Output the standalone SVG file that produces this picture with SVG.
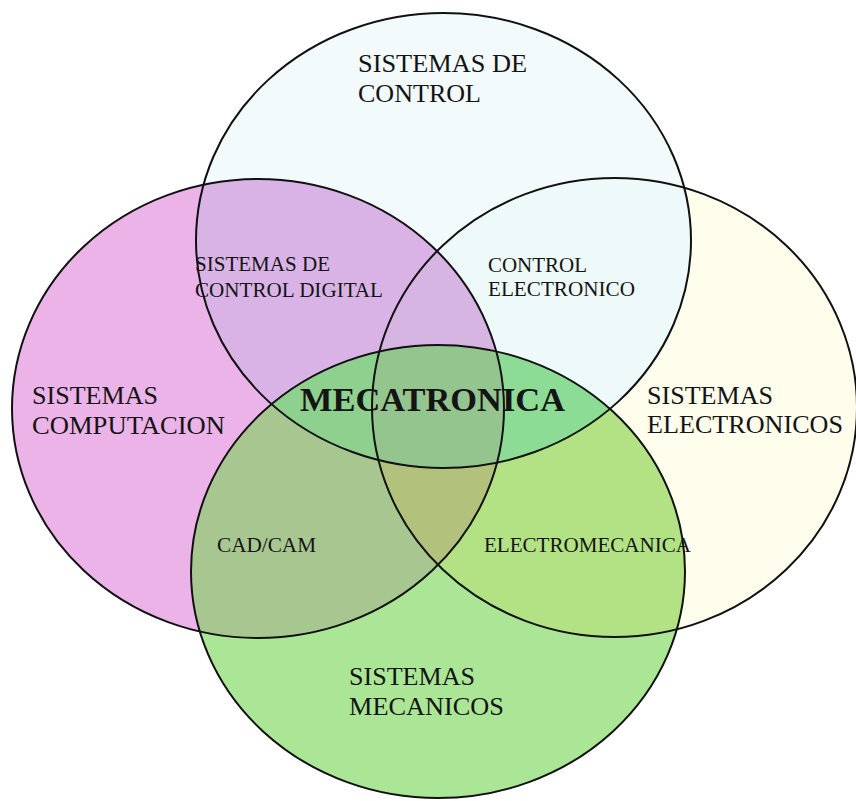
<svg xmlns="http://www.w3.org/2000/svg" width="856" height="801" viewBox="0 0 856 801">
<style>
.out{fill:none;stroke:#111;stroke-width:2}
.t{font-family:"Liberation Serif","Times New Roman",serif;fill:#141414}
.big{font-size:26px}
.mid{font-size:22px}
.sm{font-size:20px}
.b{font-size:34px;font-weight:bold}
</style>
<defs>
<clipPath id="cT"><ellipse cx="443.5" cy="240.5" rx="247.5" ry="227.5"/></clipPath>
<clipPath id="cL"><ellipse cx="258" cy="408.5" rx="246" ry="229.5"/></clipPath>
<clipPath id="cR"><ellipse cx="614.5" cy="407.5" rx="242.5" ry="229.5"/></clipPath>
<clipPath id="cB"><ellipse cx="438" cy="571.5" rx="247" ry="226.5"/></clipPath>
</defs>
<rect width="856" height="801" fill="#ffffff"/>
<g id="regions">
<ellipse cx="258" cy="408.5" rx="246" ry="229.5" fill="#ebb3e8"/>
<ellipse cx="614.5" cy="407.5" rx="242.5" ry="229.5" fill="#fffdeb"/>
<g clip-path="url(#cR)"><ellipse cx="258" cy="408.5" rx="246" ry="229.5" fill="#d8b6dc"/></g>
<ellipse cx="443.5" cy="240.5" rx="247.5" ry="227.5" fill="#f2fafc"/>
<g clip-path="url(#cT)">
<ellipse cx="258" cy="408.5" rx="246" ry="229.5" fill="#d9b3e6"/>
<ellipse cx="614.5" cy="407.5" rx="242.5" ry="229.5" fill="#eef9f9"/>
<g clip-path="url(#cR)"><ellipse cx="258" cy="408.5" rx="246" ry="229.5" fill="#d6b5e2"/></g>
</g>
<ellipse cx="438" cy="571.5" rx="247" ry="226.5" fill="#aae696"/>
<g clip-path="url(#cB)">
<ellipse cx="258" cy="408.5" rx="246" ry="229.5" fill="#a8c690"/>
<ellipse cx="614.5" cy="407.5" rx="242.5" ry="229.5" fill="#b2e284"/>
<g clip-path="url(#cR)"><ellipse cx="258" cy="408.5" rx="246" ry="229.5" fill="#b2c27c"/></g>
<g clip-path="url(#cT)">
<ellipse cx="443.5" cy="240.5" rx="247.5" ry="227.5" fill="#8cdc96"/>
<ellipse cx="258" cy="408.5" rx="246" ry="229.5" fill="#8ed08e"/>
<g clip-path="url(#cR)"><ellipse cx="258" cy="408.5" rx="246" ry="229.5" fill="#94c58f"/></g>
</g>
</g>
</g>
<g id="node-control">
<ellipse class="out" cx="443.5" cy="240.5" rx="247.5" ry="227.5"/>
<text class="t big" x="358" y="72" textLength="169" lengthAdjust="spacingAndGlyphs">SISTEMAS DE</text>
<text class="t big" x="358" y="102" textLength="123" lengthAdjust="spacingAndGlyphs">CONTROL</text>
</g>
<g id="node-computacion">
<ellipse class="out" cx="258" cy="408.5" rx="246" ry="229.5"/>
<text class="t big" x="32" y="404" textLength="126" lengthAdjust="spacingAndGlyphs">SISTEMAS</text>
<text class="t big" x="32" y="434" textLength="193" lengthAdjust="spacingAndGlyphs">COMPUTACION</text>
</g>
<g id="node-electronicos">
<ellipse class="out" cx="614.5" cy="407.5" rx="242.5" ry="229.5"/>
<text class="t big" x="647" y="404" textLength="126" lengthAdjust="spacingAndGlyphs">SISTEMAS</text>
<text class="t big" x="647" y="433" textLength="196" lengthAdjust="spacingAndGlyphs">ELECTRONICOS</text>
</g>
<g id="node-mecanicos">
<ellipse class="out" cx="438" cy="571.5" rx="247" ry="226.5"/>
<text class="t big" x="349" y="685" textLength="126" lengthAdjust="spacingAndGlyphs">SISTEMAS</text>
<text class="t big" x="349" y="715" textLength="155" lengthAdjust="spacingAndGlyphs">MECANICOS</text>
</g>
<g id="node-control-digital">
<text class="t mid" x="195" y="271" textLength="135" lengthAdjust="spacingAndGlyphs">SISTEMAS DE</text>
<text class="t mid" x="195" y="297" textLength="188" lengthAdjust="spacingAndGlyphs">CONTROL DIGITAL</text>
</g>
<g id="node-control-electronico">
<text class="t mid" x="488" y="272" textLength="99" lengthAdjust="spacingAndGlyphs">CONTROL</text>
<text class="t mid" x="488" y="296" textLength="147" lengthAdjust="spacingAndGlyphs">ELECTRONICO</text>
</g>
<g id="node-mecatronica">
<text class="t b" x="300" y="411" textLength="265" lengthAdjust="spacingAndGlyphs">MECATRONICA</text>
</g>
<g id="node-cadcam">
<text class="t sm" x="217" y="552" textLength="99" lengthAdjust="spacingAndGlyphs">CAD/CAM</text>
</g>
<g id="node-electromecanica">
<text class="t sm" x="484" y="552" textLength="207" lengthAdjust="spacingAndGlyphs">ELECTROMECANICA</text>
</g>
</svg>
